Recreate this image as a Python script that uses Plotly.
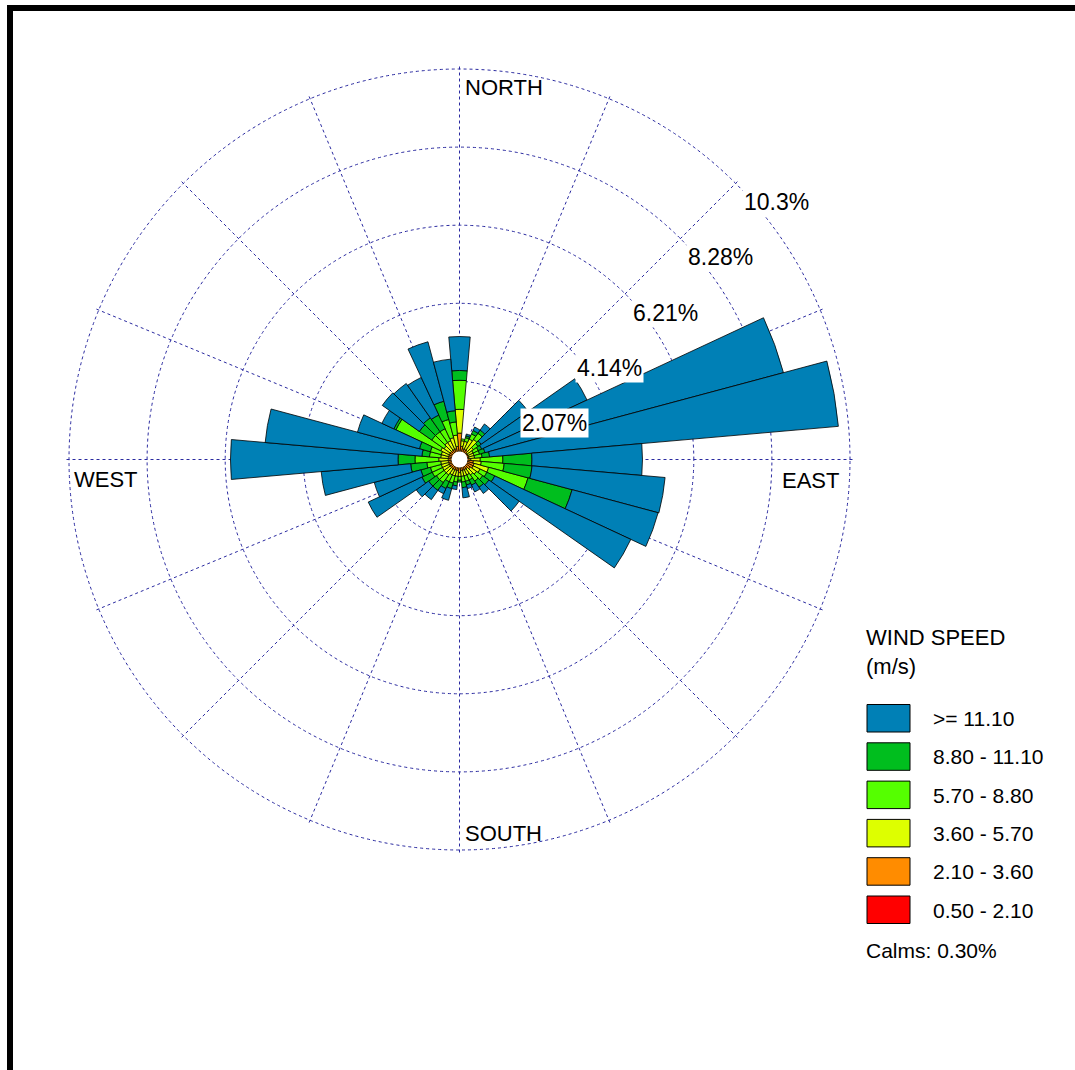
import plotly.graph_objects as go

# Wind direction bins (degrees, centre of each 10-degree sector)
directions = [d * 10 for d in range(36)]

# Frequency (%) of each speed class per direction sector
speed_0p5_2p1 = [0.21, 0.15, 0.15, 0.15, 0.15, 0.15, 0.15, 0.15, 0.15, 0.15,
                 0.20, 0.20, 0.20, 0.20, 0.15, 0.15, 0.15, 0.15, 0.15, 0.15,
                 0.15, 0.15, 0.15, 0.15, 0.15, 0.15, 0.15, 0.15, 0.15, 0.15,
                 0.15, 0.15, 0.15, 0.15, 0.15, 0.15]
speed_2p1_3p6 = [0.49, 0.20, 0.15, 0.15, 0.15, 0.10, 0.10, 0.10, 0.10, 0.15,
                 0.17, 0.20, 0.20, 0.15, 0.15, 0.15, 0.15, 0.15, 0.20, 0.15,
                 0.15, 0.15, 0.15, 0.15, 0.15, 0.15, 0.15, 0.15, 0.15, 0.15,
                 0.15, 0.15, 0.15, 0.15, 0.15, 0.20]
speed_3p6_5p7 = [0.63, 0.15, 0.20, 0.30, 0.35, 0.20, 0.15, 0.15, 0.15, 0.25,
                 0.21, 0.40, 0.20, 0.20, 0.20, 0.15, 0.15, 0.15, 0.10, 0.15,
                 0.15, 0.15, 0.20, 0.20, 0.20, 0.20, 0.20, 0.25, 0.20, 0.20,
                 0.25, 0.20, 0.25, 0.25, 0.30, 0.30]
speed_5p7_8p8 = [0.77, 0.05, 0.10, 0.15, 0.20, 0.15, 0.15, 0.15, 0.20, 0.60,
                 0.61, 1.08, 0.20, 0.20, 0.20, 0.15, 0.15, 0.15, 0.10, 0.15,
                 0.20, 0.20, 0.25, 0.25, 0.30, 0.30, 0.37, 0.63, 0.30, 0.30,
                 1.31, 0.40, 0.35, 0.35, 0.50, 0.35]
speed_8p8_11p1 = [0.26, 0.00, 0.05, 0.10, 0.10, 0.10, 0.10, 0.15, 0.20, 0.77,
                  0.74, 1.21, 0.23, 0.20, 0.20, 0.15, 0.10, 0.15, 0.05, 0.10,
                  0.15, 0.20, 0.25, 0.25, 0.30, 0.26, 0.43, 0.45, 0.20, 0.30,
                  0.06, 0.40, 0.45, 0.40, 0.50, 0.30]
speed_ge_11p1 = [0.90, 0.00, 0.05, 0.10, 0.20, 1.52, 3.08, 8.19, 9.28, 2.93,
                 3.54, 2.36, 3.98, 0.98, 0.20, 0.20, 0.10, 0.27, 0.00, 0.10,
                 0.32, 0.15, 0.30, 0.40, 1.57, 1.28, 2.38, 4.44, 4.17, 1.70,
                 0.35, 1.20, 1.11, 1.10, 1.63, 1.37]

class_labels = [">= 11.10", "8.80 - 11.10", "5.70 - 8.80",
                "3.60 - 5.70", "2.10 - 3.60", "0.50 - 2.10"]
ring_values = [2.07, 4.14, 6.21, 8.28, 10.35]
ring_labels = ["2.07%", "4.14%", "6.21%", "8.28%", "10.3%"]
calms_text = "Calms: 0.30%"

COLORS = {
    "0.50 - 2.10": "#FF0000",
    "2.10 - 3.60": "#FF8C00",
    "3.60 - 5.70": "#DDFF00",
    "5.70 - 8.80": "#55FF00",
    "8.80 - 11.10": "#00BE1E",
    ">= 11.10": "#0080B6",
}

W, H = 1075, 1070
FONT = "Liberation Sans, Arial, sans-serif"
GRID = "#2A2AA0"
R_MAX = 10.42            # radial range; the outermost ring sits just inside it
CX, CY = 459.5, 459.5    # rose centre in pixels
R = 390.5 * R_MAX / 10.35  # pixel radius of the polar area


def px(x):
    return x / W


def py(y):
    return 1 - y / H


fig = go.Figure()

# Stack speed classes from slowest (inside) to fastest (outside)
series = [
    ("0.50 - 2.10", speed_0p5_2p1),
    ("2.10 - 3.60", speed_2p1_3p6),
    ("3.60 - 5.70", speed_3p6_5p7),
    ("5.70 - 8.80", speed_5p7_8p8),
    ("8.80 - 11.10", speed_8p8_11p1),
    (">= 11.10", speed_ge_11p1),
]
for name, vals in series:
    fig.add_trace(go.Barpolar(
        r=vals,
        theta=directions,
        width=[10] * len(directions),
        name=name,
        marker=dict(color=COLORS[name], line=dict(color="#000000", width=0.8)),
        showlegend=False,
    ))

fig.update_layout(
    width=W, height=H,
    margin=dict(l=0, r=0, t=0, b=0),
    paper_bgcolor="white",
    plot_bgcolor="white",
    font=dict(family=FONT, color="#000000"),
    polar=dict(
        domain=dict(x=[px(CX - R), px(CX + R)], y=[py(CY + R), py(CY - R)]),
        bgcolor="white",
        barmode="stack",
        bargap=0,
        radialaxis=dict(
            range=[0, R_MAX],
            tickmode="array",
            tickvals=ring_values,
            showticklabels=False,
            ticks="",
            showline=False,
            gridcolor=GRID,
            gridwidth=1,
            griddash="3px,3px",
        ),
        angularaxis=dict(
            rotation=90,
            direction="clockwise",
            tickmode="array",
            tickvals=[i * 22.5 for i in range(16)],
            showticklabels=False,
            ticks="",
            showline=False,
            gridcolor=GRID,
            gridwidth=1,
            griddash="3px,3px",
        ),
    ),
)

shapes = []
# Calm circle in the middle of the rose
hole = 8
shapes.append(dict(type="circle", xref="paper", yref="paper", layer="above",
                   x0=px(CX - hole), x1=px(CX + hole),
                   y0=py(CY + hole), y1=py(CY - hole),
                   fillcolor="white", line=dict(width=0)))
# Frame lines along the top and left edge
shapes.append(dict(type="rect", xref="paper", yref="paper", layer="above",
                   x0=px(7), x1=px(W), y0=py(11), y1=py(5),
                   fillcolor="black", line=dict(width=0)))
shapes.append(dict(type="rect", xref="paper", yref="paper", layer="above",
                   x0=px(7), x1=px(13), y0=py(H), y1=py(5),
                   fillcolor="black", line=dict(width=0)))

annotations = []
# Compass labels
for text, x, y in [("NORTH", 463, 88), ("SOUTH", 463, 833),
                   ("EAST", 780, 480), ("WEST", 72, 479)]:
    annotations.append(dict(text=text, x=px(x), y=py(y), xref="paper", yref="paper",
                            xanchor="left", yanchor="middle", showarrow=False,
                            font=dict(size=22, family=FONT, color="#000000")))

# Ring percentage labels
label_pos = [(554, 423), (609, 368), (665, 313), (720, 257), (776, 202)]
for text, (x, y) in zip(ring_labels, label_pos):
    annotations.append(dict(text=text, x=px(x), y=py(y), xref="paper", yref="paper",
                            xanchor="center", yanchor="middle", showarrow=False,
                            bgcolor="white", borderpad=1,
                            font=dict(size=23, family=FONT, color="#000000")))

# Legend block
annotations.append(dict(text="WIND SPEED<br>(m/s)", x=px(864), y=py(623),
                        xref="paper", yref="paper", xanchor="left", yanchor="top",
                        align="left", showarrow=False,
                        font=dict(size=22, family=FONT, color="#000000")))
for i, label in enumerate(class_labels):
    top = 704.5 + i * 38.3
    shapes.append(dict(type="rect", xref="paper", yref="paper", layer="above",
                       x0=px(867), x1=px(910), y0=py(top + 27.5), y1=py(top),
                       fillcolor=COLORS[label], line=dict(color="#000000", width=1)))
    annotations.append(dict(text=label, x=px(931), y=py(top + 14), xref="paper",
                            yref="paper", xanchor="left", yanchor="middle",
                            showarrow=False,
                            font=dict(size=21, family=FONT, color="#000000")))
annotations.append(dict(text=calms_text, x=px(864), y=py(950), xref="paper",
                        yref="paper", xanchor="left", yanchor="middle",
                        showarrow=False,
                        font=dict(size=21, family=FONT, color="#000000")))

fig.update_layout(shapes=shapes, annotations=annotations)
fig.write_html("out.html")
